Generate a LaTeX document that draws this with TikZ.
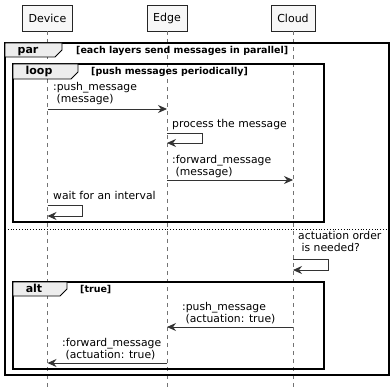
\documentclass[tikz,border=0pt]{standalone}
\usepackage{fontspec}
\setmainfont{DejaVu Sans}
\usetikzlibrary{arrows.meta,positioning}

\begin{document}
\begin{tikzpicture}[x=1pt, y=-1pt,
    actor/.style={rectangle, draw=black!85, fill=black!3, minimum height=26pt, inner xsep=6pt, font=\fontsize{11}{13}\selectfont},
    lifeline/.style={draw=black!55, dash pattern=on 4pt off 4pt, line width=0.8pt},
    frame/.style={draw=black, line width=1.4pt},
    tab/.style={draw=black, line width=0.8pt, fill=black!7},
    kind/.style={font=\bfseries\fontsize{11}{13}\selectfont, inner sep=0pt, anchor=base},
    cond/.style={font=\bfseries\fontsize{9.5}{11}\selectfont, inner sep=0pt, anchor=base west},
    msg/.style={draw=black!80, line width=0.8pt, -{Stealth[length=9pt,width=8pt,inset=3pt]}},
    lbl/.style={font=\fontsize{10.8}{12.5}\selectfont, align=left, inner sep=0pt, text depth=0pt, anchor=south west}
]
    \useasboundingbox (0,0) rectangle (390,387);

    % participants
    \node[actor] (device) at (47.5,18) {Device};
    \node[actor] (edge) at (167,18) {Edge};
    \node[actor] (cloud) at (293,18) {Cloud};
    \coordinate (bottom) at (0,387);
    \foreach \p in {device,edge,cloud}
        \draw[lifeline] (\p.south) -- (\p.south |- bottom);

    % par frame
    \draw[frame] (5,43) rectangle (389,375);
    \draw[tab] (5,43) -- (62,43) -- (62,50) -- (55,57) -- (5,57) -- cycle;
    \node[kind] (parkind) at (28,54) {par};
    \node[cond] (parcond) at (76,54) {[each layers send messages in parallel]};
    \draw[black, dotted, line width=0.8pt] (5,229) -- (389,229);

    % loop frame
    \draw[frame] (13,64) rectangle (324,222);
    \draw[tab] (13,64) -- (78,64) -- (78,72) -- (71,79) -- (13,79) -- cycle;
    \node[kind] (loopkind) at (39,75) {loop};
    \node[cond] (loopcond) at (91,75) {[push messages periodically]};

    % alt frame
    \draw[frame] (13,282) rectangle (324,369);
    \draw[tab] (13,282) -- (67,282) -- (67,289) -- (60,296) -- (13,296) -- cycle;
    \node[kind] (altkind) at (34,292) {alt};
    \node[cond] (altcond) at (80,292) {[true]};

    % message rows
    \coordinate (m1) at (0,109);
    \coordinate (s1) at (0,133);
    \coordinate (m2) at (0,180);
    \coordinate (s2) at (0,205);
    \coordinate (s3) at (0,259);
    \coordinate (m3) at (0,327);
    \coordinate (m4) at (0,363);

    \draw[msg] (device |- m1) -- (edge |- m1);
    \node[lbl] (m1txt) at (53,103) {:push\_message\\\ (message)};

    \draw[msg] (edge |- s1) -- ++(35,0) -- ++(0,10) -- ++(-35,0);
    \node[lbl] (s1txt) at (172,128) {process the message};

    \draw[msg] (edge |- m2) -- (cloud |- m2);
    \node[lbl] (m2txt) at (172,176) {:forward\_message\\\ (message)};

    \draw[msg] (device |- s2) -- ++(35,0) -- ++(0,11) -- ++(-35,0);
    \node[lbl] (s2txt) at (53,200) {wait for an interval};

    \draw[msg] (cloud |- s3) -- ++(35,0) -- ++(0,11) -- ++(-35,0);
    \node[lbl] (s3txt) at (298,252) {actuation order\\\ is needed?};

    \draw[msg] (cloud |- m3) -- (edge |- m3);
    \node[lbl] (m3txt) at (182,323) {:push\_message\\\ (actuation: true)};

    \draw[msg] (edge |- m4) -- (device |- m4);
    \node[lbl] (m4txt) at (62,359) {:forward\_message\\\ (actuation: true)};
\end{tikzpicture}
\end{document}
